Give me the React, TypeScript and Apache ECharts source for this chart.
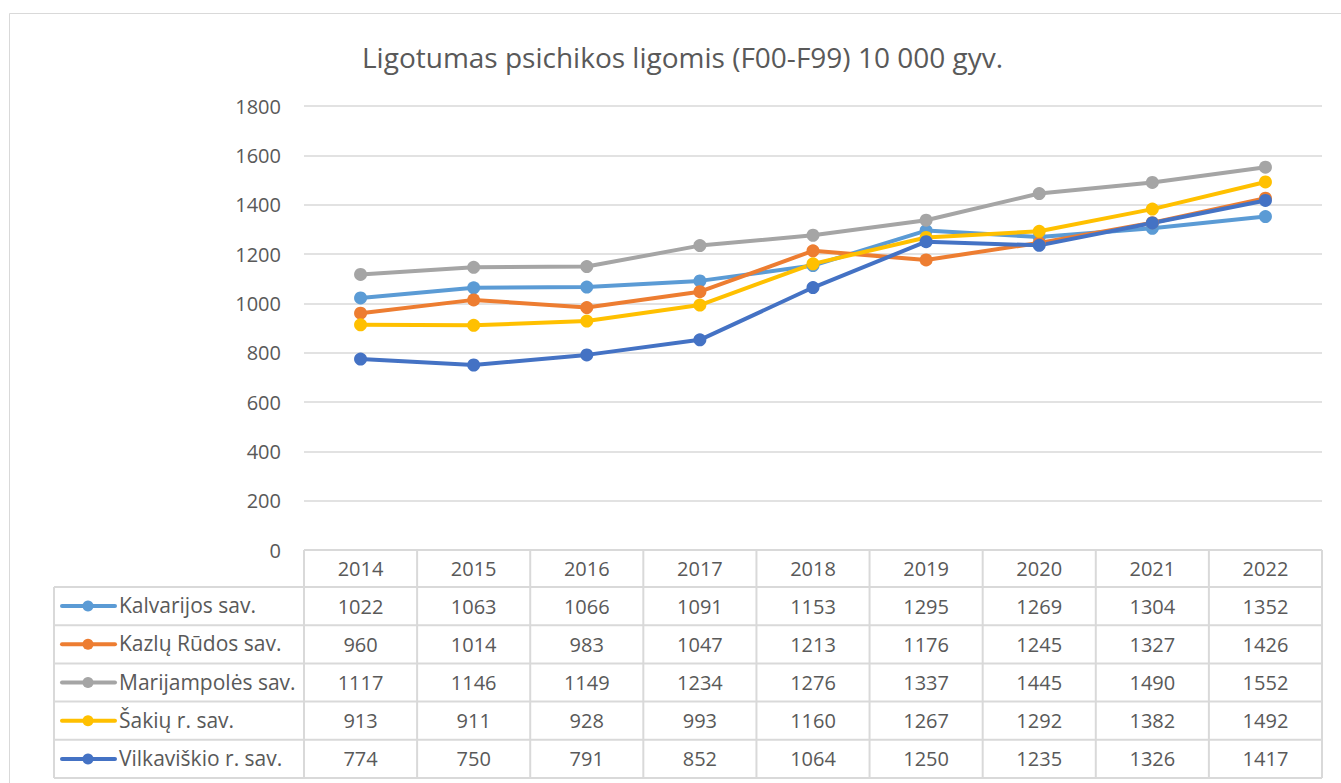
import React, { useEffect, useRef } from "react";
import * as echarts from "echarts";

const years = ["2014", "2015", "2016", "2017", "2018", "2019", "2020", "2021", "2022"];
const seriesNames = ["Kalvarijos sav.", "Kazlų Rūdos sav.", "Marijampolės sav.", "Šakių r. sav.", "Vilkaviškio r. sav."];
const kalvarijos = [1022, 1063, 1066, 1091, 1153, 1295, 1269, 1304, 1352];
const kazluRudos = [960, 1014, 983, 1047, 1213, 1176, 1245, 1327, 1426];
const marijampoles = [1117, 1146, 1149, 1234, 1276, 1337, 1445, 1490, 1552];
const sakiu = [913, 911, 928, 993, 1160, 1267, 1292, 1382, 1492];
const vilkaviskio = [774, 750, 791, 852, 1064, 1250, 1235, 1326, 1417];
const allValues = [kalvarijos, kazluRudos, marijampoles, sakiu, vilkaviskio];
const colors = ["#5B9BD5", "#ED7D31", "#A5A5A5", "#FFC000", "#4472C4"];
const titleText = "Ligotumas psichikos ligomis (F00-F99) 10 000 gyv.";

const FONT = "'Open Sans', sans-serif";
const TXT = "#595959";
const BORDER = "#d9d9d9";
const FS = 20;
const FS_NAME = 21;

export default function App() {
  const ref = useRef<HTMLDivElement>(null);
  useEffect(() => {
    if (!ref.current) return;
    const chart = echarts.init(ref.current, null, { renderer: "svg" });
    const gl = 304, gr = 1322, gt = 106, gb = 550;
    const colW = (gr - gl) / years.length;
    const tableLeft = 54;
    const rowH = 38.2;
    const headerBottom = 587;
    const graphics: any[] = [];
    graphics.push({ type: "rect", shape: { x: 9.5, y: 13.5, width: 1340, height: 800 }, style: { fill: "none", stroke: BORDER, lineWidth: 1 }, silent: true });
    graphics.push({ type: "line", shape: { x1: gl, y1: gb, x2: gr, y2: gb }, style: { stroke: BORDER, lineWidth: 2 } });
    for (let r = 0; r <= seriesNames.length; r++) {
      const y = headerBottom + r * rowH;
      graphics.push({ type: "line", shape: { x1: tableLeft, y1: y, x2: gr, y2: y }, style: { stroke: BORDER, lineWidth: 2 } });
    }
    const tableBottom = headerBottom + seriesNames.length * rowH;
    graphics.push({ type: "line", shape: { x1: tableLeft, y1: headerBottom, x2: tableLeft, y2: tableBottom }, style: { stroke: BORDER, lineWidth: 2 } });
    for (let c = 0; c <= years.length; c++) {
      const x = gl + c * colW;
      graphics.push({ type: "line", shape: { x1: x, y1: gb, x2: x, y2: tableBottom }, style: { stroke: BORDER, lineWidth: 2 } });
    }
    years.forEach((yr, c) => {
      graphics.push({ type: "text", x: gl + (c + 0.5) * colW, y: (gb + headerBottom) / 2, style: { text: yr, fill: TXT, font: `${FS}px ${FONT}`, align: "center", verticalAlign: "middle" } });
    });
    seriesNames.forEach((name, r) => {
      const cy = headerBottom + (r + 0.5) * rowH;
      graphics.push({ type: "line", shape: { x1: 62, y1: cy, x2: 115, y2: cy }, style: { stroke: colors[r], lineWidth: 4, lineCap: "round" } });
      graphics.push({ type: "circle", shape: { cx: 88, cy, r: 5.5 }, style: { fill: colors[r] } });
      graphics.push({ type: "text", x: 119, y: cy - 1, style: { text: name, fill: TXT, font: `${FS_NAME}px ${FONT}`, align: "left", verticalAlign: "middle" } });
      allValues[r].forEach((v, c) => {
        graphics.push({ type: "text", x: gl + (c + 0.5) * colW, y: cy, style: { text: String(v), fill: TXT, font: `${FS}px ${FONT}`, align: "center", verticalAlign: "middle" } });
      });
    });

    chart.setOption({
      animation: false,
      backgroundColor: "#ffffff",
      title: { text: titleText, left: 357, top: 38, textStyle: { fontFamily: FONT, fontSize: 28, fontWeight: "normal", color: TXT } },
      grid: { left: gl, right: 1341 - gr, top: gt, bottom: 783 - gb },
      xAxis: { type: "category", data: years, boundaryGap: true, axisLine: { show: false }, axisTick: { show: false }, axisLabel: { show: false }, splitLine: { show: false } },
      yAxis: {
        type: "value", min: 0, max: 1800, interval: 200,
        axisLine: { show: false }, axisTick: { show: false },
        axisLabel: { color: TXT, fontFamily: FONT, fontSize: FS, margin: 23, formatter: (v: number) => String(v) },
        splitLine: { lineStyle: { color: BORDER, width: 1.5 } },
      },
      series: seriesNames.map((name, i) => ({
        name, type: "line", data: allValues[i], symbol: "circle", symbolSize: 13,
        lineStyle: { color: colors[i], width: 4 }, itemStyle: { color: colors[i] },
      })),
      graphic: graphics,
    });
    return () => chart.dispose();
  }, []);
  return <div ref={ref} style={{ position: "absolute", left: 0, top: 0, width: 1341, height: 783 }} />;
}
